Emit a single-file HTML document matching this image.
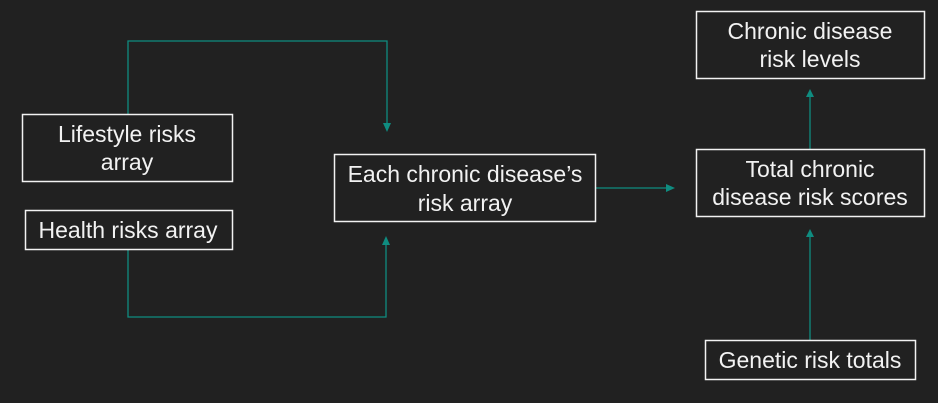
<!DOCTYPE html>
<html><head><meta charset="utf-8"><style>
html,body{margin:0;padding:0;background:#212121;}
svg{display:block}
text{font-family:"Liberation Sans",sans-serif;font-size:23px;fill:#f2f2f2;text-anchor:middle}
rect{fill:none;stroke:#f2f2f2;stroke-width:1.5}
.l{stroke:#0f8c80;stroke-width:1.3;fill:none}
.a{fill:#0f8c80}
</style></head><body>
<svg width="938" height="403" viewBox="0 0 938 403">
<g>
<polyline class="l" points="128,114 128,41 387,41 387,124"/>
<polygon class="a" points="383,123 391,123 387,132"/>
<polyline class="l" points="128,249 128,317 386,317 386,244"/>
<polygon class="a" points="382,245 390,245 386,236"/>
<line class="l" x1="595" y1="188" x2="667" y2="188"/>
<polygon class="a" points="666,184 666,192 675,188"/>
<line class="l" x1="810" y1="149" x2="810" y2="96"/>
<polygon class="a" points="806,97 814,97 810,89"/>
<line class="l" x1="810" y1="340" x2="810" y2="236"/>
<polygon class="a" points="806,237 814,237 810,229"/>
</g>
<g>
<rect x="22.5" y="114.5" width="210" height="67"/>
<text x="127" y="142">Lifestyle risks</text><text x="127" y="170">array</text></g>
<g>
<rect x="25.5" y="210.5" width="207" height="39"/>
<text x="128" y="238">Health risks array</text></g>
<g>
<rect x="334.5" y="154.5" width="261" height="67"/>
<text x="465" y="182">Each chronic disease’s</text><text x="465" y="211">risk array</text></g>
<g>
<rect x="696.5" y="11.5" width="228" height="67"/>
<text x="810" y="39">Chronic disease</text><text x="810" y="67">risk levels</text></g>
<g>
<rect x="696.5" y="149.5" width="228" height="67"/>
<text x="810" y="177">Total chronic</text><text x="810" y="205">disease risk scores</text></g>
<g>
<rect x="705.5" y="340.5" width="210" height="39"/>
<text x="810" y="368">Genetic risk totals</text></g>
</svg>
</body></html>
